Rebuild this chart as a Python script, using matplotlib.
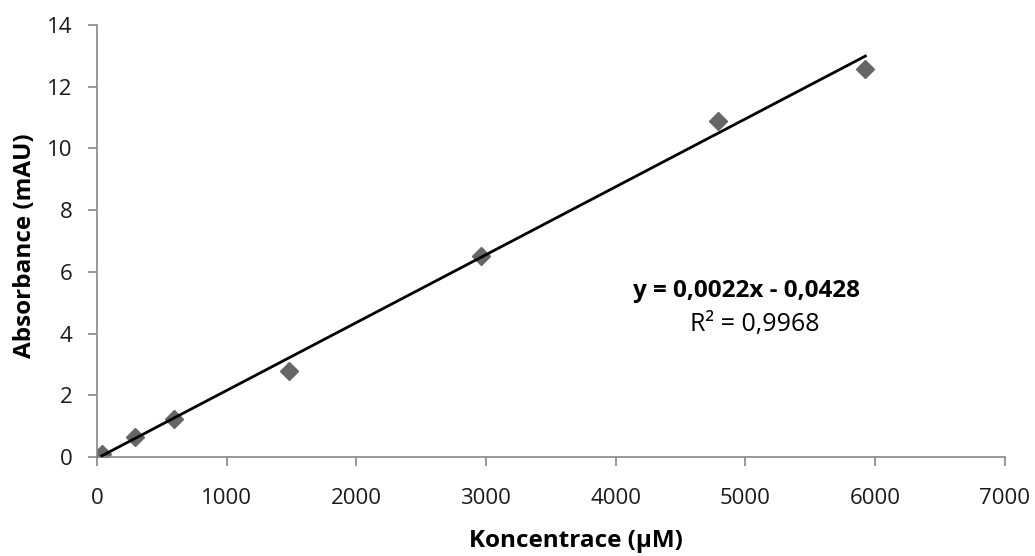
import numpy as np
import matplotlib
matplotlib.use('Agg')
import matplotlib.pyplot as plt

# calibration data
conc = [37, 296, 593, 1481, 2963, 4790, 5926]
absorb = [0.1, 0.65, 1.24, 2.8, 6.53, 10.9, 12.57]
slope, intercept = 0.0022, -0.0428
x_ticks = [0, 1000, 2000, 3000, 4000, 5000, 6000, 7000]
y_ticks = [0, 2, 4, 6, 8, 10, 12, 14]

plt.rcParams['font.family'] = ['Open Sans', 'DejaVu Sans']
axis_grey = '#868686'

fig = plt.figure(figsize=(10.35, 5.56), dpi=100)
ax = fig.add_axes([0.0937, 0.178, 0.877, 0.777])

ax.plot(conc, absorb, linestyle='none', marker='D', markersize=9.5,
        color='#666666', zorder=2)
xs = np.array([conc[0], conc[-1]])
ax.plot(xs, slope * xs + intercept, color='black', lw=2, zorder=3)

ax.set_xlim(0, 7000)
ax.set_ylim(0, 14)
ax.set_xticks(x_ticks)
ax.set_yticks(y_ticks)
for s in ['top', 'right']:
    ax.spines[s].set_visible(False)
for s in ['left', 'bottom']:
    ax.spines[s].set_color(axis_grey)
    ax.spines[s].set_linewidth(1.2)
ax.tick_params(direction='out', length=6.5, width=1.2, color=axis_grey,
               labelsize=16, labelcolor='#1a1a1a')
ax.tick_params(axis='x', pad=16)
ax.tick_params(axis='y', pad=11)

ax.set_xlabel('Koncentrace (µM)', fontsize=17.5, fontweight='bold', va='center')
ax.xaxis.set_label_coords(0.528, -0.194)
ax.set_ylabel('Absorbance (mAU)', fontsize=17.5, fontweight='bold', va='center')
ax.yaxis.set_label_coords(-0.079, 0.49)

# trendline label
ax.text(0.716, 0.384, 'y = 0,0022x - 0,0428', transform=ax.transAxes,
        ha='center', va='center', fontsize=17.5, fontweight='bold')
ax.text(0.725, 0.306, 'R² = 0,9968', transform=ax.transAxes,
        ha='center', va='center', fontsize=18)

fig.savefig('out.png', dpi=100)
